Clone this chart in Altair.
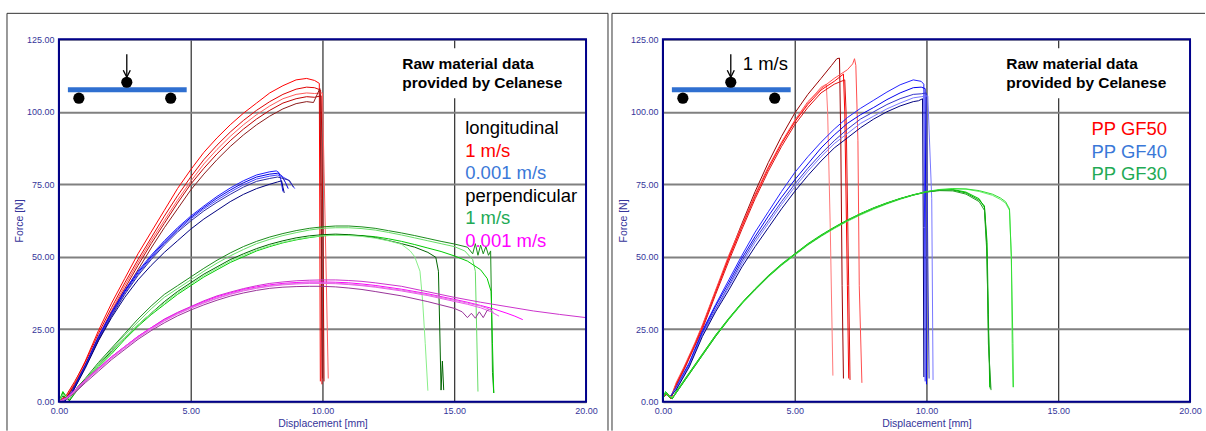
import altair as alt
import pandas as pd

# ---------------- LEFT PANEL DATA ----------------
# longitudinal 1 m/s (red)
LR_X = [0.0, 0.3, 0.6, 1.0, 1.5, 2.0, 2.5, 3.0, 3.5, 4.0, 4.5, 5.0, 5.5, 6.0, 6.5, 7.0, 7.5, 8.0, 8.5, 9.0, 9.4]
LR_Y = [
    [0.0, 2.0, 6.5, 14.0, 24.5, 34.0, 42.5, 51.0, 58.5, 66.0, 73.5, 80.0, 86.0, 91.0, 95.5, 99.5, 103.0, 106.5, 109.0, 111.0, 111.5],
    [0.0, 2.5, 7.0, 13.5, 23.5, 32.5, 41.0, 49.0, 56.5, 64.0, 71.0, 77.5, 83.5, 88.5, 93.0, 97.0, 100.5, 103.5, 106.0, 107.8, 108.5],
    [0.0, 2.0, 6.5, 13.0, 22.5, 31.5, 40.0, 48.0, 55.5, 62.5, 69.5, 76.0, 82.0, 87.0, 91.5, 95.5, 99.0, 102.0, 104.5, 106.0, 106.5],
    [0.0, 1.5, 6.0, 12.5, 22.0, 31.0, 39.0, 47.0, 54.5, 61.5, 68.5, 75.0, 80.5, 85.5, 90.0, 94.0, 97.5, 100.5, 103.0, 104.5, 105.2],
    [0.0, 1.5, 5.5, 12.0, 21.0, 30.0, 38.0, 45.5, 53.0, 60.0, 66.5, 73.0, 78.5, 83.5, 88.0, 92.0, 95.5, 98.5, 101.0, 102.8, 103.5],
]
LR_TAIL = [
    [(9.7, 110.8), (9.88, 109.8), (9.9, 60.0), (9.92, 7.0)],
    [(9.7, 108.3), (9.93, 107.5), (9.96, 50.0), (9.98, 6.0)],
    [(9.7, 106.3), (10.0, 106.5), (10.15, 40.0), (10.22, 8.0)],
    [(9.7, 105.0), (9.95, 105.5), (10.02, 60.0), (10.06, 7.0)],
    [(9.66, 103.2), (9.9, 108.0), (9.95, 70.0), (10.0, 8.0)],
]
LR_COL = ["#ff0000", "#e00000", "#ff5a5a", "#c00000", "#8b1a1a"]

# longitudinal 0.001 m/s (blue)
LB_X = [0.2, 0.5, 1.0, 1.5, 2.0, 2.5, 3.0, 3.5, 4.0, 4.5, 5.0, 5.5, 6.0, 6.5, 7.0, 7.5, 8.0]
LB_Y = [
    [0.0, 3.5, 12.5, 22.5, 31.0, 38.5, 45.0, 50.5, 55.5, 60.0, 64.0, 67.5, 70.8, 73.7, 76.2, 78.2, 79.3],
    [0.0, 3.5, 12.5, 22.0, 30.5, 38.0, 44.5, 50.0, 55.0, 59.5, 63.5, 67.0, 70.2, 73.0, 75.5, 77.5, 78.5],
    [0.0, 3.0, 12.0, 21.5, 30.0, 37.5, 44.0, 49.5, 54.5, 59.0, 63.0, 66.5, 69.5, 72.3, 74.8, 76.8, 77.8],
    [0.0, 3.0, 12.0, 21.5, 29.5, 37.0, 43.5, 49.0, 54.0, 58.5, 62.3, 65.8, 68.8, 71.5, 74.0, 76.0, 77.0],
    [0.0, 3.0, 11.5, 21.0, 29.0, 36.0, 42.0, 47.0, 51.5, 55.5, 59.5, 63.0, 66.0, 69.0, 71.5, 73.5, 75.0],
]
LB_TAIL = [
    [(8.25, 79.6), (8.35, 79.0), (8.42, 76.5), (8.5, 72.5)],
    [(8.3, 78.8), (8.45, 78.0), (8.6, 75.5), (8.7, 73.5)],
    [(8.3, 78.2), (8.5, 77.5), (8.7, 76.5), (8.95, 73.5)],
    [(8.3, 77.5), (8.5, 77.0), (8.75, 76.3), (8.9, 74.0)],
    [(8.3, 75.8), (8.45, 76.2), (8.5, 74.0), (8.55, 72.0)],
]
LB_COL = ["#1a1aff", "#0000e0", "#4040ff", "#2a2aa0", "#000080"]

# perpendicular 1 m/s (green)
LG_X = [0.0, 0.15, 0.4, 0.7, 1.0, 1.5, 2.0, 2.5, 3.0, 3.5, 4.0, 4.5, 5.0, 5.5, 6.0, 6.5, 7.0, 7.5, 8.0,
        8.5, 9.0, 9.5, 10.0, 10.5, 11.0, 11.5, 12.0, 12.5, 13.0]
LG_Y = [
    [0.0, 3.0, 0.5, 5.0, 8.0, 13.5, 18.5, 23.5, 28.5, 33.0, 37.0, 40.0, 43.0, 46.0, 48.8, 51.3, 53.5, 55.3, 56.8,
     58.0, 59.0, 59.8, 60.3, 60.6, 60.6, 60.3, 59.8, 59.0, 58.2],
    [0.0, 2.5, 1.0, 4.5, 7.5, 13.0, 18.0, 23.0, 27.5, 32.0, 36.0, 39.0, 42.0, 45.0, 47.8, 50.3, 52.5, 54.5, 56.0,
     57.3, 58.3, 59.2, 59.8, 60.0, 60.0, 59.7, 59.2, 58.4, 57.5],
    [0.0, 3.5, 0.3, 4.0, 7.0, 12.0, 16.5, 21.5, 26.0, 30.0, 33.5, 37.0, 40.0, 43.0, 45.5, 48.0, 50.0, 52.0, 53.5,
     54.8, 55.8, 56.6, 57.2, 57.5, 57.5, 57.3, 56.9, 56.2, 55.3],
    [0.0, 2.0, 0.5, 4.5, 7.5, 12.5, 17.5, 22.0, 26.5, 30.5, 34.5, 38.0, 41.0, 44.0, 46.5, 49.0, 51.0, 52.8, 54.3,
     55.5, 56.5, 57.2, 57.6, 57.8, 57.6, 57.2, 56.6, 55.6, 54.5],
    [0.0, 2.5, 0.8, 4.5, 7.5, 12.5, 17.0, 22.0, 26.5, 30.5, 34.0, 37.5, 40.5, 43.5, 46.0, 48.5, 50.5, 52.3, 53.8,
     55.0, 56.0, 56.8, 57.2, 57.4, 57.3, 57.0, 56.4, 55.5, 54.3],
]
LG_TAIL = [
    [(13.5, 57.3), (14.0, 56.3), (14.5, 55.3), (15.0, 54.4), (15.5, 53.3), (15.7, 51.0), (15.8, 54.5), (15.9, 50.5),
     (16.0, 54.0), (16.1, 51.0), (16.2, 53.5), (16.3, 50.5), (16.38, 52.0), (16.42, 30.0), (16.45, 10.0), (16.5, 3.0)],
    [(13.5, 56.5), (14.0, 55.5), (14.5, 54.5), (15.0, 53.5), (15.4, 52.0), (15.7, 49.0), (15.8, 45.0), (15.85, 25.0),
     (15.9, 3.5)],
    [(13.5, 54.2), (14.0, 53.0), (14.5, 51.8), (15.0, 50.3), (15.5, 48.5), (16.0, 45.5), (16.25, 42.5), (16.4, 38.0),
     (16.45, 20.0), (16.5, 3.0)],
    [(13.5, 53.3), (14.0, 51.5), (14.3, 49.8), (14.4, 45.0), (14.45, 25.0), (14.5, 4.0), (14.55, 14.0), (14.6, 4.0)],
    [(13.33, 52.0), (13.5, 50.0), (13.7, 45.0), (13.8, 34.8), (13.9, 20.0), (14.0, 3.8)],
]
LG_COL = ["#1a8c1a", "#66dd66", "#00cc00", "#006400", "#88ee88"]

# perpendicular 0.001 m/s (magenta)
LM_X = [0.0, 0.3, 0.6, 1.0, 1.5, 2.0, 2.5, 3.0, 3.5, 4.0, 4.5, 5.0, 5.5, 6.0, 6.5, 7.0, 7.5, 8.0, 8.5, 9.0,
        9.5, 10.0, 10.5, 11.0, 11.5, 12.0, 13.0, 14.0, 15.0]
LM_Y = [
    [0.0, 1.0, 3.5, 7.0, 11.5, 15.5, 19.0, 22.5, 25.5, 28.5, 30.8, 32.8, 34.8, 36.5, 37.8, 39.0, 40.0, 40.8, 41.3,
     41.7, 41.9, 42.0, 42.0, 41.8, 41.5, 41.0, 39.8, 37.9, 36.0],
    [0.0, 1.5, 4.0, 7.5, 11.5, 15.5, 19.0, 22.5, 25.5, 28.3, 30.6, 32.6, 34.5, 36.2, 37.5, 38.7, 39.6, 40.3, 40.8,
     41.1, 41.3, 41.3, 41.2, 41.0, 40.6, 40.1, 38.8, 37.2, 35.3],
    [0.0, 1.0, 3.5, 7.0, 11.0, 15.0, 18.5, 22.0, 25.0, 27.8, 30.2, 32.2, 34.0, 35.6, 37.0, 38.2, 39.1, 39.8, 40.3,
     40.6, 40.8, 40.8, 40.7, 40.4, 40.0, 39.5, 38.2, 36.6, 34.6],
    [0.0, 1.0, 3.0, 6.5, 10.5, 14.5, 18.0, 21.5, 24.5, 27.2, 29.6, 31.6, 33.4, 35.0, 36.4, 37.5, 38.4, 39.1, 39.5,
     39.7, 39.8, 39.8, 39.6, 39.2, 38.7, 38.0, 36.5, 34.5, 32.2],
    [0.0, 1.2, 3.8, 7.2, 11.2, 15.2, 18.8, 22.2, 25.2, 28.0, 30.4, 32.4, 34.2, 35.8, 37.2, 38.4, 39.3, 40.0, 40.5,
     40.8, 41.0, 41.0, 40.9, 40.6, 40.2, 39.7, 38.5, 36.9, 35.0],
]
LM_TAIL = [
    [(16.0, 34.3), (17.0, 32.8), (18.0, 31.3), (19.0, 30.1), (20.0, 29.0)],
    [(15.5, 34.3), (16.0, 33.2), (16.5, 32.0), (17.0, 30.5), (17.3, 29.5), (17.6, 28.3)],
    [(15.5, 33.6), (16.0, 32.4), (16.4, 31.0), (16.7, 29.5)],
    [(15.3, 31.0), (15.5, 29.0), (15.65, 30.5), (15.8, 28.8), (15.95, 31.0), (16.1, 29.0), (16.25, 31.5),
     (16.4, 32.0)],
    [(15.5, 34.0), (16.0, 33.0), (16.3, 32.0), (16.5, 30.8)],
]
LM_COL = ["#cc33cc", "#ff00ff", "#ee55ee", "#993399", "#dd77dd"]

# ---------------- RIGHT PANEL DATA ----------------
# PP GF50 (red)
RR_X = [0.0, 0.15, 0.3, 0.5, 0.8, 1.0, 1.2, 1.5, 2.0, 2.5, 3.0, 3.5, 4.0, 4.5, 5.0, 5.5, 6.0]
RR_Y = [
    [1.5, 3.0, 1.0, 6.0, 11.5, 15.5, 19.5, 26.0, 38.0, 50.0, 61.5, 72.5, 82.5, 91.5, 99.5, 106.0, 111.5],
    [1.5, 2.5, 1.0, 5.5, 11.0, 15.0, 19.0, 25.5, 37.5, 49.5, 60.5, 71.0, 80.5, 89.0, 96.5, 103.0, 108.5],
    [1.5, 3.0, 1.5, 6.0, 11.5, 15.5, 19.5, 26.0, 38.0, 49.5, 60.5, 71.0, 80.5, 89.0, 96.5, 102.5, 107.5],
    [1.5, 2.5, 1.0, 5.5, 11.0, 15.0, 19.0, 25.0, 37.0, 48.5, 59.5, 70.0, 79.5, 88.0, 95.5, 101.5, 106.5],
    [1.5, 3.0, 1.5, 6.5, 12.0, 16.0, 20.0, 26.5, 38.5, 50.5, 61.0, 71.5, 81.0, 89.5, 97.0, 103.5, 108.0],
]
RR_TAIL = [
    [(6.4, 116.0), (6.6, 118.3), (6.7, 118.5), (6.75, 90.0), (6.8, 40.0), (6.85, 8.0)],
    [(6.2, 109.5), (6.25, 100.0), (6.35, 60.0), (6.45, 9.0)],
    [(6.5, 110.5), (6.85, 113.0), (6.9, 100.0), (7.0, 40.0), (7.05, 8.0)],
    [(6.5, 109.5), (6.9, 111.0), (6.95, 100.0), (7.05, 40.0), (7.1, 7.5)],
    [(6.5, 111.5), (7.0, 114.5), (7.2, 116.5), (7.27, 118.3), (7.32, 116.0), (7.4, 90.0), (7.45, 40.0),
     (7.55, 6.5)],
]
RR_COL = ["#990000", "#ff7777", "#ff0000", "#dd1111", "#ff4d4d"]

# PP GF40 (blue)
RB_X = [0.3, 0.5, 1.0, 1.5, 2.0, 2.5, 3.0, 3.5, 4.0, 4.5, 5.0, 5.5, 6.0, 6.5, 7.0, 7.5, 8.0, 8.5, 9.0, 9.5]
RB_Y = [
    [2.0, 5.0, 13.5, 24.5, 33.5, 42.0, 50.5, 58.5, 65.5, 72.5, 79.0, 84.5, 89.5, 94.0, 98.0, 101.2, 104.0, 106.8, 109.3, 111.0],
    [2.0, 4.5, 13.0, 24.0, 33.0, 41.0, 49.5, 57.0, 64.0, 70.5, 76.5, 82.0, 87.5, 92.0, 96.0, 99.0, 101.5, 104.2, 106.5, 108.3],
    [2.0, 4.5, 12.5, 23.5, 32.0, 40.0, 48.5, 56.0, 62.5, 69.0, 75.0, 80.5, 85.5, 90.0, 94.0, 97.5, 100.0, 102.5, 104.5, 106.0],
    [2.0, 4.5, 12.5, 23.0, 31.5, 39.5, 47.5, 55.0, 61.5, 68.0, 74.0, 79.5, 84.5, 89.0, 92.5, 96.0, 98.5, 101.0, 103.0, 104.8],
    [2.0, 4.0, 12.0, 22.5, 31.0, 38.5, 46.5, 53.5, 60.0, 66.5, 72.5, 78.0, 83.0, 87.5, 91.0, 94.5, 97.5, 100.0, 102.0, 103.5],
]
RB_TAIL = [
    [(9.8, 110.5), (9.9, 109.5), (9.93, 60.0), (9.95, 7.0)],
    [(9.8, 108.5), (9.95, 108.0), (9.98, 50.0), (10.0, 6.0)],
    [(9.8, 106.2), (10.0, 106.5), (10.05, 50.0), (10.1, 8.0)],
    [(9.8, 105.2), (10.05, 105.5), (10.2, 70.0), (10.25, 7.5)],
    [(9.7, 103.8), (9.85, 104.5), (9.88, 60.0), (9.9, 8.5)],
]
RB_COL = ["#2222ff", "#0000ee", "#3333cc", "#7777ff", "#000080"]

# PP GF30 (green)
RG_X = [0.0, 0.1, 0.2, 0.35, 0.5, 1.0, 1.5, 2.0, 2.5, 3.0, 3.5, 4.0, 4.5, 5.0, 5.5, 6.0, 6.5, 7.0, 7.5, 8.0,
        8.5, 9.0, 9.5, 10.0, 10.5, 11.0, 11.5, 12.0]
RG_Y = [
    [1.0, 3.5, 2.5, 1.0, 3.5, 10.0, 16.5, 23.0, 28.8, 34.2, 39.0, 43.5, 47.5, 51.0, 54.5, 57.5, 60.2, 62.7, 64.9,
     66.9, 68.6, 70.1, 71.4, 72.4, 73.0, 73.2, 72.3, 70.0],
    [1.0, 3.0, 2.0, 1.5, 3.0, 9.5, 16.0, 22.5, 28.3, 33.7, 38.5, 43.0, 47.0, 50.5, 54.0, 57.0, 59.7, 62.2, 64.4,
     66.4, 68.2, 69.8, 71.2, 72.3, 73.0, 73.4, 73.3, 72.5],
    [1.0, 3.0, 2.0, 1.0, 3.0, 9.5, 16.0, 22.5, 28.5, 34.0, 38.8, 43.2, 47.2, 50.8, 54.2, 57.2, 60.0, 62.5, 64.7,
     66.7, 68.4, 70.0, 71.3, 72.4, 73.0, 73.0, 72.0, 69.5],
    [1.0, 3.0, 2.0, 1.0, 3.0, 9.8, 16.3, 22.8, 28.6, 34.0, 38.8, 43.3, 47.3, 50.8, 54.3, 57.3, 60.0, 62.5, 64.8,
     66.8, 68.5, 70.0, 71.3, 72.3, 72.8, 72.7, 71.6, 69.0],
    [1.0, 3.2, 2.2, 1.2, 3.2, 9.8, 16.2, 22.8, 28.6, 34.0, 38.9, 43.3, 47.3, 50.9, 54.3, 57.3, 60.0, 62.5, 64.8,
     66.8, 68.5, 70.0, 71.3, 72.5, 73.2, 73.5, 73.4, 72.8],
]
RG_TAIL = [
    [(12.2, 67.0), (12.3, 55.0), (12.35, 30.0), (12.4, 5.0)],
    [(12.5, 71.2), (12.8, 69.8), (13.0, 68.5), (13.15, 66.0), (13.22, 50.0), (13.25, 20.0), (13.28, 5.0)],
    [(12.2, 67.5), (12.28, 55.0), (12.35, 25.0), (12.42, 4.5)],
    [(12.2, 66.0), (12.3, 50.0), (12.35, 20.0), (12.45, 4.0)],
    [(12.5, 71.6), (12.8, 70.3), (13.0, 69.0), (13.15, 66.5), (13.22, 50.0), (13.28, 20.0), (13.3, 5.0)],
]
RG_COL = ["#00cc00", "#66ee66", "#00aa00", "#22a022", "#33dd33"]

X_TICKS = [0, 5, 10, 15, 20]
Y_TICKS = [0, 25, 50, 75, 100, 125]

LEFT_LEGEND = [("longitudinal", "#000000"), ("1 m/s", "#ff0000"), ("0.001 m/s", "#3a78d8"),
               ("perpendicular", "#000000"), ("1 m/s", "#22aa55"), ("0.001 m/s", "#ff00ff")]
RIGHT_LEGEND = [("PP GF50", "#ff0000"), ("PP GF40", "#3a78d8"), ("PP GF30", "#22aa55")]
NOTE = ["Raw material data", "provided by Celanese"]


def build(groups, prefix):
    rows = []
    for gname, xs, ys_list, tails, cols in groups:
        for ci, (ys, tail, col) in enumerate(zip(ys_list, tails, cols)):
            pts = list(zip(xs, ys)) + list(tail)
            for k, (x, y) in enumerate(pts):
                rows.append({"curve": f"{prefix}{gname}{ci}", "k": k, "x": x, "y": y, "col": col})
    return pd.DataFrame(rows)


left_df = build([("r", LR_X, LR_Y, LR_TAIL, LR_COL), ("b", LB_X, LB_Y, LB_TAIL, LB_COL),
                 ("g", LG_X, LG_Y, LG_TAIL, LG_COL), ("m", LM_X, LM_Y, LM_TAIL, LM_COL)], "L")
right_df = build([("r", RR_X, RR_Y, RR_TAIL, RR_COL), ("b", RB_X, RB_Y, RB_TAIL, RB_COL),
                  ("g", RG_X, RG_Y, RG_TAIL, RG_COL)], "R")

W, H = 528, 363
FONT = "Liberation Sans"
AXC = "#35359a"
one = pd.DataFrame({"o": [0]})


def rule(x, y, x2=None, y2=None, color="#000000", w=1.0):
    enc = {"x": alt.value(x), "y": alt.value(y)}
    if x2 is not None:
        enc["x2"] = alt.value(x2)
    if y2 is not None:
        enc["y2"] = alt.value(y2)
    return alt.Chart(one).mark_rule(color=color, strokeWidth=w).encode(**enc)


def text(s, x, y, color, size, bold=False, align="left"):
    return alt.Chart(one).mark_text(text=s, color=color, fontSize=size, font=FONT,
                                    fontWeight="bold" if bold else "normal",
                                    align=align, baseline="middle").encode(
        x=alt.value(x), y=alt.value(y))


def icon():
    beam = alt.Chart(one).mark_rect(color="#2f6fd0").encode(
        x=alt.value(9), x2=alt.value(128), y=alt.value(48), y2=alt.value(53))
    layers = [beam]
    for cx, cy in [(20, 59), (112, 59), (68, 43)]:
        layers.append(alt.Chart(one).mark_point(filled=True, color="#000000", size=125, opacity=1).encode(
            x=alt.value(cx), y=alt.value(cy)))
    layers.append(rule(68, 15, 68, 37, w=1.3))
    layers.append(rule(68, 38, 64.5, 31, w=1.3))
    layers.append(rule(68, 38, 71.5, 31, w=1.3))
    return layers


def note():
    box = alt.Chart(one).mark_rect(color="#ffffff").encode(
        x=alt.value(340), x2=alt.value(512), y=alt.value(9), y2=alt.value(59))
    return [box, text(NOTE[0], 344, 25, "#000000", 15.5, bold=True),
            text(NOTE[1], 344, 44, "#000000", 15.5, bold=True)]


def panel(df, extra, frame):
    common = dict(ticks=False, domain=False, labelFlush=False, labelColor=AXC, labelFontSize=9,
                  labelFont=FONT, labelPadding=5, titleColor=AXC, titleFontSize=10.5, titleFont=FONT,
                  titleFontWeight="normal", format=".2f", grid=True)
    lines = alt.Chart(df).mark_line(strokeWidth=1, clip=True).encode(
        x=alt.X("x:Q", scale=alt.Scale(domain=[0, 20], nice=False, zero=False),
                axis=alt.Axis(values=X_TICKS, title="Displacement [mm]", gridColor="#000000", gridWidth=1,
                              titlePadding=3, **common)),
        y=alt.Y("y:Q", scale=alt.Scale(domain=[0, 125], nice=False, zero=False),
                axis=alt.Axis(values=Y_TICKS, title="Force [N]", gridColor="#808080", gridWidth=2,
                              titlePadding=2, **common)),
        color=alt.Color("col:N", scale=None),
        detail="curve:N",
        order="k:Q",
    )
    border = alt.Chart(one).mark_rect(filled=False, stroke="#00008b", strokeWidth=2).encode(
        x=alt.value(0), x2=alt.value(W), y=alt.value(0), y2=alt.value(H))
    return alt.layer(*frame, lines, *extra, border).properties(width=W, height=H)


left_extra = icon() + note() + [text(s, 407, 89 + i * 22.6, c, 18.5) for i, (s, c) in enumerate(LEFT_LEGEND)]
right_extra = icon() + [text("1 m/s", 80, 25, "#000000", 18.5)] + note() + \
    [text(s, 505, 90 + i * 22.5, c, 18.5, align="right") for i, (s, c) in enumerate(RIGHT_LEGEND)]

left_frame = [rule(-52, -26, 550, None, color="#333333"), rule(-52, -26, None, 392, color="#333333"),
              rule(550, -26, None, 392, color="#333333")]
right_frame = [rule(-51, -26, 543, None, color="#333333"), rule(-51, -26, None, 392, color="#333333")]

chart = alt.hconcat(panel(left_df, left_extra, left_frame), panel(right_df, right_extra, right_frame),
                    spacing=77, bounds="flush").properties(
    padding={"left": 6, "top": 12, "right": 0, "bottom": 0}
).configure_view(stroke=None).configure(background="#ffffff")

chart.save("out.html", embed_options={"renderer": "svg", "actions": False})
